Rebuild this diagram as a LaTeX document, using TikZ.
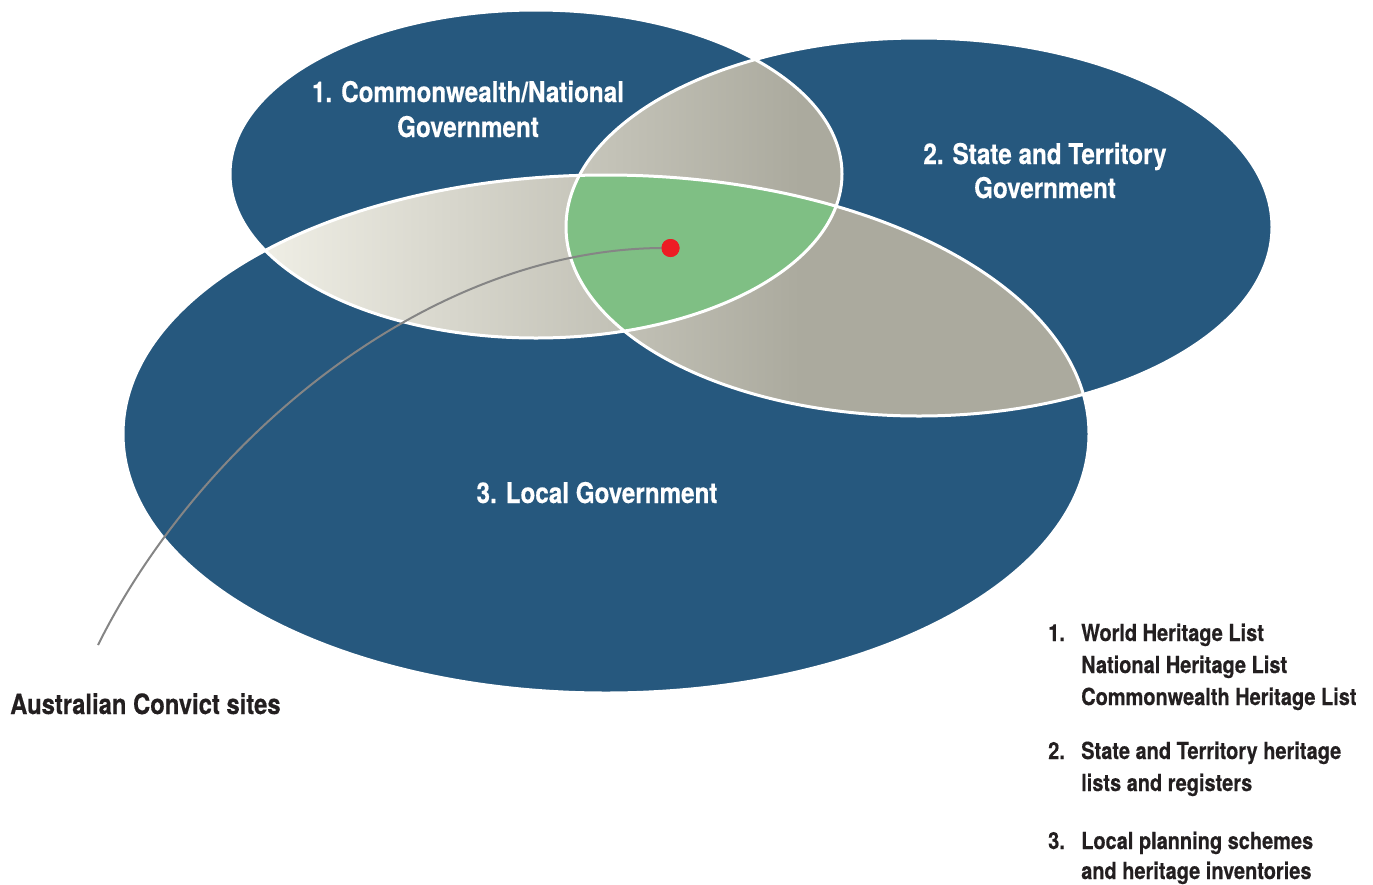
\documentclass[tikz,border=0pt]{standalone}
\usepackage{fontspec}
\newfontfamily\cond{TeX Gyre Heros}[FakeStretch=0.85, FakeBold=0.4]
\definecolor{blueE}{RGB}{38,88,126}
\definecolor{greyE}{RGB}{171,170,158}
\definecolor{creamE}{RGB}{239,238,229}
\definecolor{greenE}{RGB}{127,191,132}
\definecolor{redE}{RGB}{237,28,36}
\definecolor{lineE}{RGB}{133,133,133}
\definecolor{textE}{RGB}{35,31,32}
\tikzset{
  head/.style={anchor=base, inner sep=0pt, text=white, font=\cond\bfseries\fontsize{28.5}{35}\selectfont},
  listtext/.style={anchor=base west, inner sep=0pt, text=textE, font=\cond\bfseries\fontsize{23.5}{32}\selectfont},
  border/.style={draw=white, line width=3pt},
}
\begin{document}
\begin{tikzpicture}[x=1pt,y=-1pt]
\useasboundingbox (0,0) rectangle (1373,884);
\def\eA{(536,174) ellipse [x radius=306pt, y radius=164pt]}
\def\eB{(919,227) ellipse [x radius=353pt, y radius=189pt]}
\def\eC{(606,434) ellipse [x radius=483pt, y radius=259pt]}
% blue ellipses
\fill[blueE] \eC;
\fill[blueE] \eB;
\fill[blueE] \eA;
% pairwise overlaps
\begin{scope}
  \clip \eA; \clip \eC;
  \shade[left color=creamE, right color=greyE] (265,30) rectangle (800,430);
  \fill[greyE] (800,30) rectangle (1100,430);
\end{scope}
\begin{scope}
  \clip \eA; \clip \eB;
  \shade[left color=creamE, right color=greyE] (265,30) rectangle (800,430);
  \fill[greyE] (800,30) rectangle (1100,430);
\end{scope}
\begin{scope}
  \clip \eB; \clip \eC;
  \shade[left color=creamE, right color=greyE] (265,30) rectangle (800,430);
  \fill[greyE] (800,30) rectangle (1100,430);
\end{scope}
% triple overlap
\begin{scope}
  \clip \eA; \clip \eB;
  \fill[greenE] \eC;
\end{scope}
% white borders
\draw[border] \eA;
\draw[border] \eB;
\draw[border] \eC;
% convict sites pointer
\node[circle, fill=redE, inner sep=0pt, minimum size=18pt] (dot) at (670.5,248) {};
\coordinate (tail) at (98,645);
\draw[lineE, line width=2pt] (dot.center) .. controls (430,245) and (200,440) .. (tail);
\fill[redE] (dot) circle (9pt);
% headings
\node[head] (c1) at (468,102) {1. Commonwealth/National};
\node[head] (c2) at (468,137) {Government};
\node[head] (s1) at (1045,164) {2. State and Territory};
\node[head] (s2) at (1045,198) {Government};
\node[head] (l1) at (597,503) {3. Local Government};
\node[anchor=base west, inner sep=0pt, text=textE, font=\cond\bfseries\fontsize{28}{34}\selectfont] (acs) at (10,714) {Australian Convict sites};
% list
\node[listtext] (n1) at (1048,641) {1.};
\node[listtext] (i1a) at (1081,641) {World Heritage List};
\node[listtext] (i1b) at (1081,673) {National Heritage List};
\node[listtext] (i1c) at (1081,705) {Commonwealth Heritage List};
\node[listtext] (n2) at (1048,759) {2.};
\node[listtext] (i2a) at (1081,759) {State and Territory heritage};
\node[listtext] (i2b) at (1081,791) {lists and registers};
\node[listtext] (n3) at (1048,849) {3.};
\node[listtext] (i3a) at (1081,849) {Local planning schemes};
\node[listtext] (i3b) at (1081,879) {and heritage inventories};
\end{tikzpicture}
\end{document}
